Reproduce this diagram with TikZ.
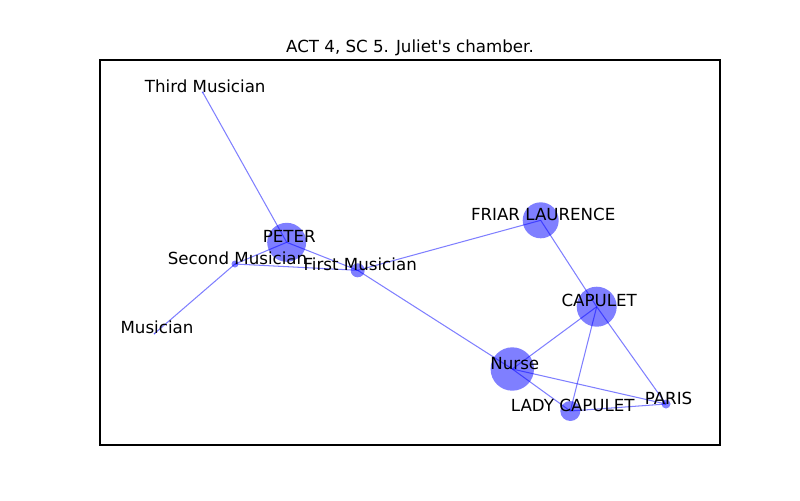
\documentclass[tikz,border=0pt]{standalone}
\usepackage{fontspec}
\setmainfont{DejaVu Sans}
\begin{document}
\begin{tikzpicture}[x=0.72pt,y=-0.72pt,
  edge/.style={draw=blue, draw opacity=0.5, line width=0.75pt},
  vtx/.style={circle, fill=blue, fill opacity=0.5, draw=none, inner sep=0pt, minimum size=#1*1.44pt},
  lbl/.style={anchor=base, font=\fontsize{12}{14}\selectfont, inner sep=0pt, text=black, xshift=1.8pt}]
\useasboundingbox (0,0) rectangle (800,500);
\fill[white] (0,0) rectangle (800,500);
\node[lbl, xshift=-1.8pt] (title) at (410,52) {ACT 4, SC 5. Juliet\textquotesingle s chamber.};
\draw[line width=0.8pt] (100,60) rectangle (720,445);
% positions
\coordinate (third) at (202.7,92.3);
\coordinate (peter) at (286.7,242.3);
\coordinate (second) at (235,264);
\coordinate (first) at (357.7,270.3);
\coordinate (musician) at (154.5,333.5);
\coordinate (friar) at (540.7,220.3);
\coordinate (capulet) at (596.7,306.7);
\coordinate (nurse) at (512.3,369);
\coordinate (lady) at (570.3,411);
\coordinate (paris) at (666,404);
% edges
\draw[edge] (third) -- (peter);
\draw[edge] (peter) -- (second);
\draw[edge] (peter) -- (first);
\draw[edge] (second) -- (first);
\draw[edge] (second) -- (musician);
\draw[edge] (first) -- (friar);
\draw[edge] (first) -- (nurse);
\draw[edge] (friar) -- (capulet);
\draw[edge] (capulet) -- (nurse);
\draw[edge] (capulet) -- (lady);
\draw[edge] (capulet) -- (paris);
\draw[edge] (nurse) -- (lady);
\draw[edge] (nurse) -- (paris);
\draw[edge] (lady) -- (paris);
% vertices
\node[vtx=1] (v-third) at (third) {};
\node[vtx=19.5] (v-peter) at (peter) {};
\node[vtx=3.5] (v-second) at (second) {};
\node[vtx=7] (v-first) at (first) {};
\node[vtx=1] (v-musician) at (musician) {};
\node[vtx=18] (v-friar) at (friar) {};
\node[vtx=20] (v-capulet) at (capulet) {};
\node[vtx=21.7] (v-nurse) at (nurse) {};
\node[vtx=10] (v-lady) at (lady) {};
\node[vtx=4.5] (v-paris) at (paris) {};
% labels
\node[lbl] (l-third) at (third) {Third Musician};
\node[lbl] (l-peter) at (peter) {PETER};
\node[lbl] (l-second) at (second) {Second Musician};
\node[lbl] (l-first) at (first) {First Musician};
\node[lbl] (l-musician) at (musician) {Musician};
\node[lbl] (l-friar) at (friar) {FRIAR LAURENCE};
\node[lbl] (l-capulet) at (capulet) {CAPULET};
\node[lbl] (l-nurse) at (nurse) {Nurse};
\node[lbl] (l-lady) at (lady) {LADY CAPULET};
\node[lbl] (l-paris) at (paris) {PARIS};
\end{tikzpicture}
\end{document}
